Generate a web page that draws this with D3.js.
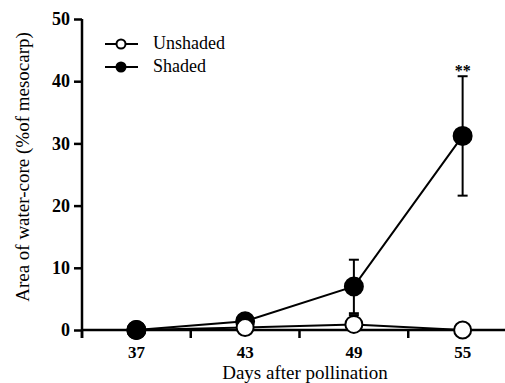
<!DOCTYPE html>
<html><head><meta charset="utf-8">
<script src="https://cdn.jsdelivr.net/npm/d3@7"></script>
</head><body style="margin:0">
<script>
const days = ["37","43","49","55"];
const unshaded = [0, 0.4, 0.9, 0];
const unshadedErr = [0, 0.3, 1.5, 0.2];
const shaded = [0, 1.4, 7.0, 31.2];
const shadedErr = [0, 0.4, 4.3, 9.6];
const yTicks = [0,10,20,30,40,50];
const signif = ["", "", "", "**"];

const W=505,H=383;
const svg=d3.select("body").append("svg").attr("width",W).attr("height",H).style("display","block");
const x=d3.scaleBand().domain(days).range([82,517]);
const y=d3.scaleLinear().domain([0,50]).range([330,19]);
const cx=d=>x(d)+x.bandwidth()/2;
function serif(sel){ return sel.attr("font-family","Liberation Serif").style("font-family","'Liberation Serif'"); }

// axes
svg.append("line").attr("x1",82).attr("x2",505).attr("y1",y(0)).attr("y2",y(0)).attr("stroke","#000").attr("stroke-width",2.5);
svg.append("line").attr("x1",82).attr("x2",82).attr("y1",y(0)+8).attr("y2",y(50)).attr("stroke","#000").attr("stroke-width",2.5);
const yAxis=svg.append("g").attr("transform","translate(82,0)")
  .call(d3.axisLeft(y).tickValues(yTicks).tickSize(8).tickPadding(4));
yAxis.select(".domain").remove();
serif(yAxis);
yAxis.selectAll("line").attr("stroke-width",2.5);
serif(yAxis.selectAll("text")).attr("font-size",18).attr("font-weight","bold").attr("fill","#000");
const bounds=[82,190.75,299.5,408.25];
svg.selectAll(".xt").data(bounds).enter().append("line").attr("x1",d=>d).attr("x2",d=>d)
  .attr("y1",y(0)).attr("y2",y(0)+8).attr("stroke","#000").attr("stroke-width",2.5);
serif(svg.selectAll(".xl").data(days).enter().append("text")).attr("x",d=>cx(d)).attr("y",358)
  .attr("text-anchor","middle").attr("font-size",17).attr("font-weight","bold").text(d=>d);
serif(svg.append("text")).attr("x",305).attr("y",379).attr("text-anchor","middle").attr("font-size",19).text("Days after pollination");
serif(svg.append("text")).attr("transform","translate(29,167) rotate(-90)").attr("text-anchor","middle").attr("font-size",19).text("Area of water-core (%of mesocarp)");

const line=d3.line().x((d,i)=>cx(days[i])).y(d=>y(d));
function bars(g,vals,errs){
  vals.forEach((v,i)=>{
    if(errs[i]>0){
      const X=cx(days[i]);
      g.append("line").attr("x1",X).attr("x2",X).attr("y1",y(v+errs[i])).attr("y2",y(Math.max(0,v-errs[i]))).attr("stroke","#000").attr("stroke-width",2);
      [v+errs[i],v-errs[i]].forEach(e=>{ if(e>0.5) g.append("line").attr("x1",X-5).attr("x2",X+5).attr("y1",y(e)).attr("y2",y(e)).attr("stroke","#000").attr("stroke-width",2);});
    }
  });
}
const g=svg.append("g");
bars(g,shaded,shadedErr); bars(g,unshaded,unshadedErr);
g.append("path").datum(shaded).attr("d",line).attr("fill","none").attr("stroke","#000").attr("stroke-width",2);
g.append("path").datum(unshaded).attr("d",line).attr("fill","none").attr("stroke","#000").attr("stroke-width",2);
function dots(vals,fill,r,filter){
  g.selectAll(null).data(vals.map((v,i)=>({v,i})).filter(filter)).enter().append("circle")
    .attr("cx",d=>cx(days[d.i])).attr("cy",d=>y(d.v)).attr("r",r)
    .attr("fill",fill).attr("stroke","#000").attr("stroke-width",2);
}
dots(shaded,"#000",9,()=>true);
dots(unshaded,"#fff",8.5,()=>true);
// where values coincide the shaded marker sits on top
dots(shaded,"#000",9,d=>d.v===unshaded[d.i]);

serif(svg.selectAll(".sig").data(signif).enter().append("text")).attr("x",(d,i)=>cx(days[i])).attr("y",76)
  .attr("text-anchor","middle").attr("font-size",16).attr("font-weight","bold").text(d=>d);

// legend
const leg=[["Unshaded","#fff"],["Shaded","#000"]];
leg.forEach((l,i)=>{
  const Y=44+i*23;
  svg.append("line").attr("x1",105).attr("x2",138).attr("y1",Y).attr("y2",Y).attr("stroke","#000").attr("stroke-width",2);
  svg.append("circle").attr("cx",121).attr("cy",Y).attr("r",4.5).attr("fill",l[1]).attr("stroke","#000").attr("stroke-width",2);
  serif(svg.append("text")).attr("x",153).attr("y",Y+5).attr("font-size",18).text(l[0]);
});
</script>
</body></html>
